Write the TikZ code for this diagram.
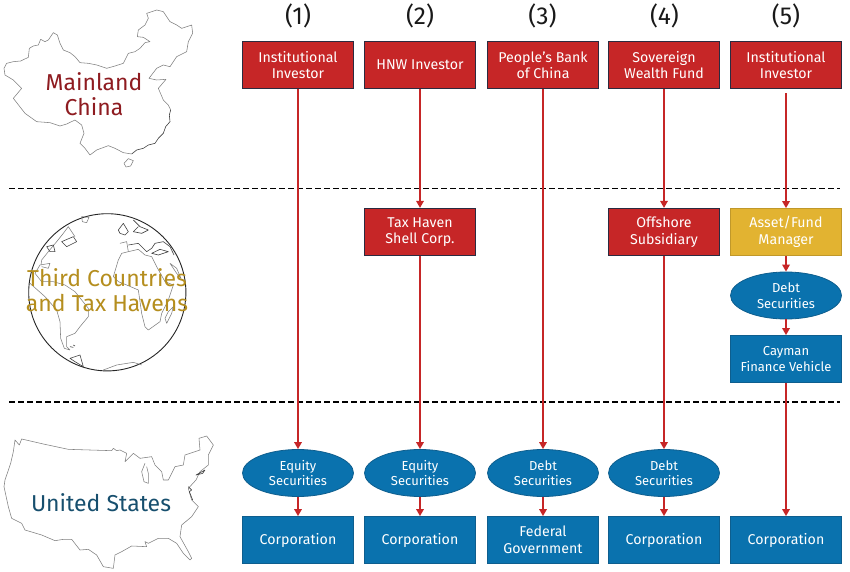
\documentclass[tikz,border=0pt]{standalone}
\usepackage{fontspec}
\setmainfont{Fira Sans}
\usetikzlibrary{arrows.meta,shapes.geometric}
\definecolor{cred}{HTML}{C62627}
\definecolor{cnavy}{HTML}{2B2B40}
\definecolor{cblue}{HTML}{0A72AE}
\definecolor{cblueline}{HTML}{0E5E8E}
\definecolor{cgold}{HTML}{E2B331}
\definecolor{ctitlered}{HTML}{8E1B20}
\definecolor{ctitlegold}{HTML}{B58E1E}
\definecolor{ctitleblue}{HTML}{174F6E}
\tikzset{
  x=1pt,y=-1pt,
  boxbase/.style={minimum width=111pt,minimum height=47pt,inner sep=0pt,align=center,text=white,font=\fontsize{14.2}{16.5}\selectfont},
  redbox/.style={boxbase,fill=cred,draw=cnavy,line width=1.2pt},
  goldbox/.style={boxbase,fill=cgold,draw=cgold!85!black,line width=.8pt},
  bluebox/.style={boxbase,fill=cblue,draw=cblueline,line width=.8pt},
  sec/.style={ellipse,minimum width=111pt,minimum height=47pt,inner sep=0pt,align=center,text=white,fill=cblue,draw=cblueline,line width=.8pt,font=\fontsize{13}{15.5}\selectfont},
  flow/.style={draw=cred,line width=1.6pt,-{Triangle[length=7pt,width=7.5pt]}},
  divider/.style={black,line width=1.1pt,dash pattern=on 5.5pt off 3.5pt},
  mapline/.style={draw=black!50,line width=.55pt,line join=round},
  maplinedark/.style={draw=black!75,line width=.6pt,line join=round},
  heading/.style={font=\fontsize{24.5}{28}\selectfont,text=black!90},
  region/.style={align=center,inner sep=0pt},
}
\newcommand{\onerow}[1]{\raisebox{-3pt}{#1}}
\begin{document}
\begin{tikzpicture}
\useasboundingbox (0,0) rectangle (850,572);
\fill[white] (0,0) rectangle (850,572);
% China
\begin{scope}[scale=1/3]
\draw[mapline] (12,205)--(20,190)--(40,185)--(62,183)--(85,172)--(88,145)--(100,138)--(115,135)--(122,118)--(135,125)--(145,120)--(160,98)--(172,105)--(180,130)--(190,150)--(210,158)--(225,170)--(240,188)--(265,190)--(290,195)--(320,205)--(345,198)--(370,190)--(385,160)--(405,155)--(420,145)--(435,128)--(450,125)--(430,112)--(412,110)--(415,90)--(435,75)--(445,55)--(440,40)--(470,30)--(490,35)--(500,50)--(510,65)--(530,75)--(545,85)--(575,75)--(578,100)--(565,125)--(560,155)--(530,170)--(510,200)--(490,195)--(470,205)--(447,235)--(470,240)--(498,238)--(475,265)--(490,300)--(505,315)--(512,330);
\draw[maplinedark] (512,330)--(508,345)--(510,365)--(497,380)--(490,400)--(475,415)--(465,430)--(445,435)--(430,445)--(410,450)--(395,462);
\draw[mapline] (395,462)--(370,458)--(345,445)--(325,437)--(290,450)--(270,465)--(255,445)--(240,430)--(252,400)--(245,375)--(225,360)--(200,372)--(180,378)--(150,368)--(110,365)--(75,340)--(40,295)--(65,265)--(40,240)--(15,225)--(12,205);
\draw[mapline] (372,490)--(385,476)--(400,482)--(392,498)--(378,501)--cycle;
\end{scope}
% Globe
\draw[black!85,line width=.9pt] (107.3,292.3) circle (78.6);
% the Americas
\begin{scope}[shift={(25,210)},scale=1/3]
\draw[mapline] (30,190)--(50,215)--(85,215)--(120,225)--(150,245)--(190,295)--(190,320)--(165,350)--(150,370)--(125,380)--(125,410)--(135,420)--(118,415)--(107,385)--(105,335)--(95,300)--(60,260)--(15,220);
\draw[mapline] (30,190)--(45,165)--(75,160)--(70,175)--(50,170);
\draw[mapline] (48,165)--(50,150)--(70,125)--(95,95)--(115,70)--(130,50)--(150,80);
\draw[maplinedark] (65,110)--(85,105)--(90,125)--(75,125)--cycle (110,95)--(145,80)--(155,95)--(125,110)--cycle;
\draw[mapline] (170,20)--(192,22)--(185,38)--(172,35)--cycle;
\draw[maplinedark] (135,445)--(165,435)--(175,470)--(150,455)--cycle;
\draw[maplinedark] (135,410)--(145,412) (145,405)--(150,408);
\end{scope}
% Africa, Europe, Arabia
\begin{scope}[shift={(105,210)},scale=1/3]
\draw[mapline] (40,150)--(50,130)--(70,125)--(100,118)--(120,135)--(140,140)--(155,170)--(180,215)--(205,225)--(190,270)--(170,310)--(165,335)--(130,360)--(120,350)--(110,310)--(100,240)--(65,225)--(40,215)--(25,200)--cycle;
\draw[mapline] (190,305)--(205,290)--(200,310)--(185,340)--(180,325)--cycle;
\draw[maplinedark] (40,60)--(55,40)--(70,65)--(60,75)--(45,70)--cycle;
\draw[maplinedark] (85,30)--(105,50)--(130,60)--(110,70)--(85,65)--(100,50);
\draw[mapline] (45,100)--(65,95)--(70,125);
\draw[maplinedark] (70,105)--(100,100)--(125,125)--(140,115)--(150,100)--(175,95)--(195,110)--(207,135);
\draw[maplinedark] (140,130)--(165,118)--(190,125)--(160,135)--cycle;
\draw[mapline] (195,160)--(215,175)--(228,205)--(215,190)--cycle;
\end{scope}
\begin{scope}[shift={(0,190)},scale=1/3]
\draw[mapline] (310,540)--(350,525)--(400,517)--(425,525);
\end{scope}
% US
\begin{scope}[shift={(0,420)},scale=1/3]
\draw[mapline] (40,95)--(45,60)--(58,75)--(65,57)--(130,72)--(205,88)--(335,92)--(340,85)--(350,92)--(360,90)--(380,100)--(375,125)--(400,100)--(420,115)--(455,110)--(465,135)--(485,155)--(490,180)--(505,180)--(525,140)--(550,135)--(555,105)--(600,90)--(597,55)--(620,48)--(640,75)--(625,105)--(625,135)--(600,155)--(588,180)--(565,205)--(575,240)--(595,260)--(575,290)--(545,315)--(540,350)--(565,395)--(575,415)--(570,420)--(550,400)--(530,370)--(505,355)--(475,355)--(445,370)--(435,365)--(440,380)--(395,378)--(365,395)--(345,405)--(340,445)--(310,440)--(290,405)--(265,388)--(240,390)--(215,358)--(190,358)--(165,362)--(125,345)--(75,330)--(65,310)--(35,295)--(25,260)--(12,200)--(15,180)--(32,130)--cycle;
\draw[mapline] (435,130)--(425,155)--(432,185)--(445,190)--(445,160)--(440,140);
\draw[maplinedark] (588,165)--(615,150)--(608,160)--cycle;
\draw[maplinedark] (565,200)--(575,210)--(568,215)--(578,240);
\end{scope}
% Region labels
\node[region,text=ctitlered,font=\fontsize{23}{25.5}\selectfont] (china) at (94,94) {Mainland\\China};
\node[region,text=ctitlegold,font=\fontsize{23}{25}\selectfont] (third) at (107,290.5) {Third Countries\\and Tax Havens};
\node[region,text=ctitleblue,font=\fontsize{23}{26}\selectfont] (us) at (101,503) {United States};
% Dividers
\draw[divider] (9,188.5)--(840,188.5);
\draw[divider] (9,402)--(840,402);
% Headings
\node[heading] (h1) at (298,16) {(1)};
\node[heading] (h2) at (420,16) {(2)};
\node[heading] (h3) at (542.5,16) {(3)};
\node[heading] (h4) at (664.5,16) {(4)};
\node[heading] (h5) at (786,16) {(5)};
% Top row
\node[redbox] (a1) at (298,65) {Institutional\\Investor};
\node[redbox] (a2) at (420,65) {\onerow{HNW Investor}};
\node[redbox] (a3) at (543,65) {People’s Bank\\of China};
\node[redbox] (a4) at (664,65) {Sovereign\\Wealth Fund};
\node[redbox] (a5) at (786,65) {Institutional\\Investor};
% Middle row
\node[redbox] (b2) at (420,232) {Tax Haven\\Shell Corp.};
\node[redbox] (b4) at (664,232) {Offshore\\Subsidiary};
\node[goldbox] (b5) at (786,232) {Asset/Fund\\Manager};
\node[sec] (c5) at (786,295.5) {Debt\\Securities};
\node[bluebox,font=\fontsize{13}{15.5}\selectfont] (d5) at (786,359) {Cayman\\Finance Vehicle};
% Securities
\node[sec] (s1) at (298,473) {Equity\\Securities};
\node[sec] (s2) at (420,473) {Equity\\Securities};
\node[sec] (s3) at (543,473) {Debt\\Securities};
\node[sec] (s4) at (664,473) {Debt\\Securities};
% Bottom row
\node[bluebox] (e1) at (298,540) {\onerow{Corporation}};
\node[bluebox] (e2) at (420,540) {\onerow{Corporation}};
\node[bluebox] (e3) at (543,540) {Federal\\Government};
\node[bluebox] (e4) at (664,540) {\onerow{Corporation}};
\node[bluebox] (e5) at (786,540) {\onerow{Corporation}};
% Connectors
\draw[flow] (a1)--(s1);
\draw[flow] (s1)--(e1);
\draw[flow] (a2)--(b2);
\draw[flow] (b2)--(s2);
\draw[flow] (s2)--(e2);
\draw[flow] (a3)--(s3);
\draw[flow] (s3)--(e3);
\draw[flow] (a4)--(b4);
\draw[flow] (b4)--(s4);
\draw[flow] (s4)--(e4);
\draw[flow,shorten <=4pt] (a5)--(b5);
\draw[flow] (b5)--(c5);
\draw[flow] (c5)--(d5);
\draw[flow] (d5)--(e5);
\end{tikzpicture}
\end{document}
